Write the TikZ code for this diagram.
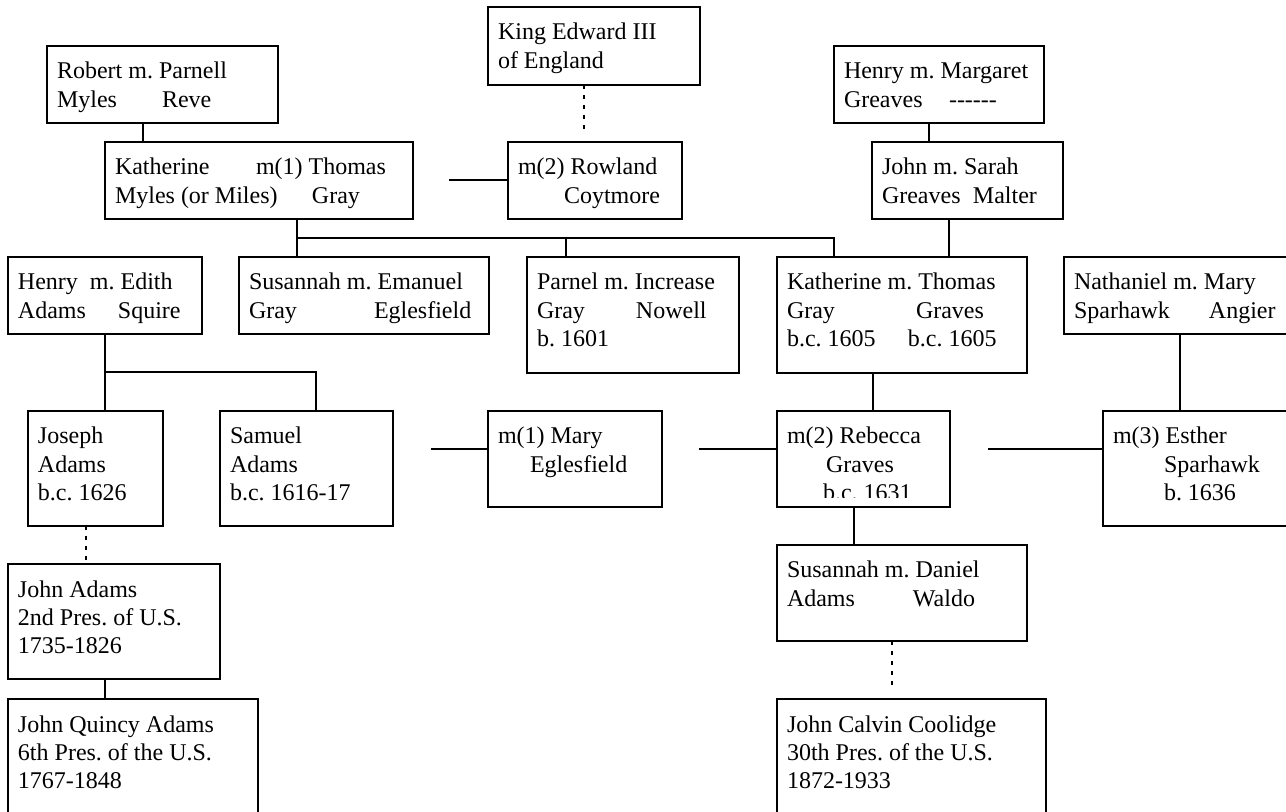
\documentclass[tikz,border=0pt]{standalone}
\usepackage{fontspec}
\newfontfamily\tnr{Liberation Serif}
\frenchspacing
\tikzset{
  famcard/.style={draw, line width=1pt, rectangle, inner sep=0pt, outer sep=0pt, anchor=north west},
  txt/.style={anchor=base west, inner sep=0pt, outer sep=0pt, font=\tnr\fontsize{12}{14.2}\selectfont\frenchspacing},
  conn/.style={line width=1pt},
  dotconn/.style={line width=1pt, dash pattern=on 2pt off 3pt}
}
\newcommand{\famcardbox}[6]{%
  \node[famcard, minimum width={(#4-#2)*0.5pt}, minimum height={(#5-#3)*0.5pt}] (#1) at (#2,#3) {};
  \node[txt] (#1-t) at ([shift={(10,33)}]#1.north west) {\parbox[t]{300pt}{\frenchspacing #6}};
}
\begin{document}
\begin{tikzpicture}[x=0.5pt,y=-0.5pt]
\useasboundingbox (0,0) rectangle (1286,812);
\clip (0,0) rectangle (1286,812);
\fill[white] (0,0) rectangle (1286,812);

\famcardbox{rob}{47}{46}{278}{123}{Robert m. Parnell\\\makebox[52.5pt][l]{Myles}Reve}
\famcardbox{kat1}{105}{142}{413}{219}{\makebox[70.5pt][l]{Katherine}m(1) Thomas\\\makebox[98.5pt][l]{Myles (or Miles)}Gray}
\famcardbox{king}{488}{7}{700}{85}{King Edward III\\of England}
\famcardbox{row}{508}{142}{682}{219}{m(2) Rowland\\\hspace*{23pt}Coytmore}
\famcardbox{hm}{834}{46}{1044}{123}{Henry m. Margaret\\\makebox[52.5pt][l]{Greaves}-\kern0pt-\kern0pt-\kern0pt-\kern0pt-\kern0pt-}
\famcardbox{js}{872}{142}{1063}{219}{John m. Sarah\\\makebox[45.5pt][l]{Greaves}Malter}
\famcardbox{he}{8}{257}{202}{334}{\makebox[36pt][l]{Henry}m. Edith\\\makebox[50pt][l]{Adams}Squire}
\famcardbox{sus}{239}{257}{489}{334}{Susannah m. Emanuel\\\makebox[62.5pt][l]{Gray}Eglesfield}
\famcardbox{par}{527}{257}{739}{373}{Parnel m. Increase\\\makebox[49.5pt][l]{Gray}Nowell\\b. 1601}
\famcardbox{katg}{777}{257}{1027}{373}{Katherine m. Thomas\\\makebox[64.5pt][l]{Gray}Graves\\\makebox[60.5pt][l]{b.c. 1605}b.c. 1605}
\famcardbox{nat}{1064}{257}{1300}{334}{Nathaniel m. Mary\\\makebox[67.5pt][l]{Sparhawk}Angier}
\famcardbox{jos}{28}{411}{163}{526}{Joseph\\Adams\\b.c. 1626}
\famcardbox{sam}{220}{411}{393}{526}{Samuel\\Adams\\b.c. 1616-17}
\famcardbox{mary}{488}{411}{662}{507}{m(1) Mary\\\hspace*{16pt}Eglesfield}
\node[famcard, minimum width=86.5pt, minimum height=48pt] (reb) at (777,411) {};
\begin{scope}
  \clip (777,411) rectangle (950,498);
  \node[txt] (reb-t) at ([shift={(10,33)}]reb.north west) {\parbox[t]{300pt}{\frenchspacing m(2) Rebecca\\\hspace*{19.5pt}Graves\\\hspace*{18pt}b.c. 1631}};
\end{scope}
\famcardbox{est}{1103}{411}{1300}{526}{m(3) Esther\\\hspace*{25.5pt}Sparhawk\\\hspace*{25.5pt}b. 1636}
\famcardbox{sd}{777}{545}{1027}{641}{Susannah m. Daniel\\\makebox[63pt][l]{Adams}Waldo}
\famcardbox{ja}{8}{564}{220}{679}{John Adams\\2nd Pres. of U.S.\\1735-1826}
\famcardbox{jqa}{8}{699}{258}{830}{John Quincy Adams\\6th Pres. of the U.S.\\1767-1848}
\famcardbox{cool}{777}{699}{1046}{830}{John Calvin Coolidge\\30th Pres. of the U.S.\\1872-1933}

% x positions of connectors
\coordinate (x143) at (143,0);
\coordinate (x929) at (929,0);
\coordinate (x584) at (584,0);
\coordinate (x297) at (297,0);
\coordinate (x566) at (566,0);
\coordinate (x834) at (834,0);
\coordinate (x949) at (949,0);
\coordinate (x105) at (105,0);
\coordinate (x316) at (316,0);
\coordinate (x86) at (86,0);
\coordinate (x873) at (873,0);
\coordinate (x1180) at (1180,0);
\coordinate (x854) at (854,0);
\coordinate (x892) at (892,0);
\coordinate (bar1) at (0,238);
\coordinate (bar2) at (0,372);
\coordinate (rowl) at (449,180);
\coordinate (maryl) at (431,449);
\coordinate (rebl) at (699,449);
\coordinate (estl) at (988,449);

\draw[conn] (x143 |- rob.south) -- (x143 |- kat1.north);
\draw[conn] (x929 |- hm.south) -- (x929 |- js.north);
\draw[dotconn] (x584 |- king.south) -- ([yshift=4.5pt]x584 |- row.north);
\draw[conn] (rowl) -- (rowl -| row.west);
\draw[conn] (x297 |- kat1.south) -- (x297 |- sus.north);
\draw[conn] (x297 |- bar1) -| (x834 |- katg.north);
\draw[conn] (x566 |- bar1) -- (x566 |- par.north);
\draw[conn] (x949 |- js.south) -- (x949 |- katg.north);
\draw[conn] (x105 |- he.south) -- (x105 |- jos.north);
\draw[conn] (x105 |- bar2) -| (x316 |- sam.north);
\draw[dotconn] (x86 |- jos.south) -- (x86 |- ja.north);
\draw[conn] (x105 |- ja.south) -- (x105 |- jqa.north);
\draw[conn] (maryl) -- (maryl -| mary.west);
\draw[conn] (rebl) -- (rebl -| reb.west);
\draw[conn] (estl) -- (estl -| est.west);
\draw[conn] (x873 |- katg.south) -- (x873 |- reb.north);
\draw[conn] (x1180 |- nat.south) -- (x1180 |- est.north);
\draw[conn] (x854 |- reb.south) -- (x854 |- sd.north);
\draw[dotconn] (x892 |- sd.south) -- ([yshift=4.5pt]x892 |- cool.north);
\end{tikzpicture}
\end{document}
